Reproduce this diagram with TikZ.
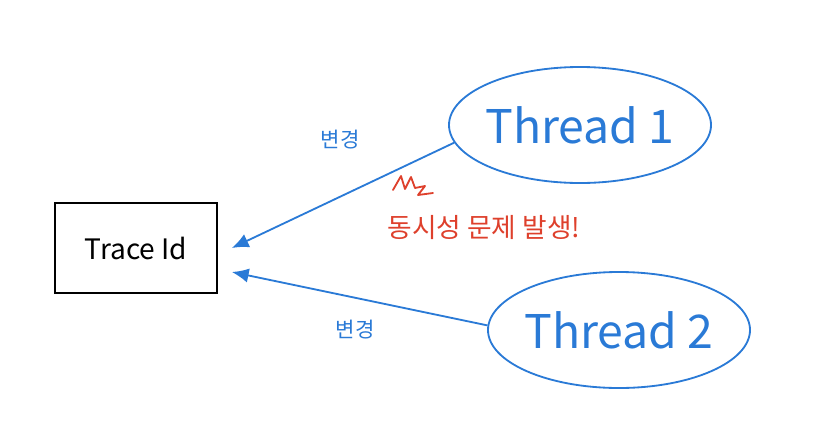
\documentclass[tikz,border=0pt]{standalone}
\usepackage{fontspec}
\setmainfont{Noto Sans CJK KR}
\usepackage{tikz}
\usetikzlibrary{arrows.meta,calc,shapes.geometric}
\definecolor{penblue}{RGB}{42,122,214}
\definecolor{penred}{RGB}{222,64,44}

\begin{document}
\begin{tikzpicture}[
  x=0.025cm, y=-0.025cm,
  box/.style={draw, line width=1.2pt, minimum width=162*0.025cm, minimum height=90*0.025cm,
              font=\fontsize{20}{24}\selectfont},
  thread/.style={draw=penblue, ellipse, line width=1.3pt, inner sep=0pt,
                 minimum width=262*0.025cm, minimum height=116*0.025cm,
                 text=penblue, font=\fontsize{33}{40}\selectfont},
  arr/.style={-{Latex[length=4.2mm, width=3.6mm]}, penblue, line width=1.3pt},
  note/.style={text=penblue, font=\fontsize{15}{18}\selectfont},
  warn/.style={text=penred, font=\fontsize{19}{22}\selectfont},
]
\useasboundingbox (0,0) rectangle (822,442);
\node[box] (trace) at (136,248) {Trace Id};
\node[thread] (t1) at (580,125) {\makebox[0pt]{Thread 1}};
\node[thread] (t2) at (619,330) {\makebox[0pt]{Thread 2}};
\draw[arr] (t1.188) -- ($(trace.east)+(14,0)$);
\draw[arr] (t2.178) -- ($(trace.east)+(14,24)$);
\node[note] (c1) at (340,140) {변경};
\node[note] (c2) at (355,330) {변경};
% red mark above the warning
\draw[penred, line width=1.3pt, line cap=round, line join=round]
  (393,190) -- (401,176) -- (405,189) -- (411,177) -- (415,188)
  -- (425,186) -- (418,195) -- (433,193);
\node[warn] (w) at (484,228) {동시성 문제 발생!};
\end{tikzpicture}
\end{document}
